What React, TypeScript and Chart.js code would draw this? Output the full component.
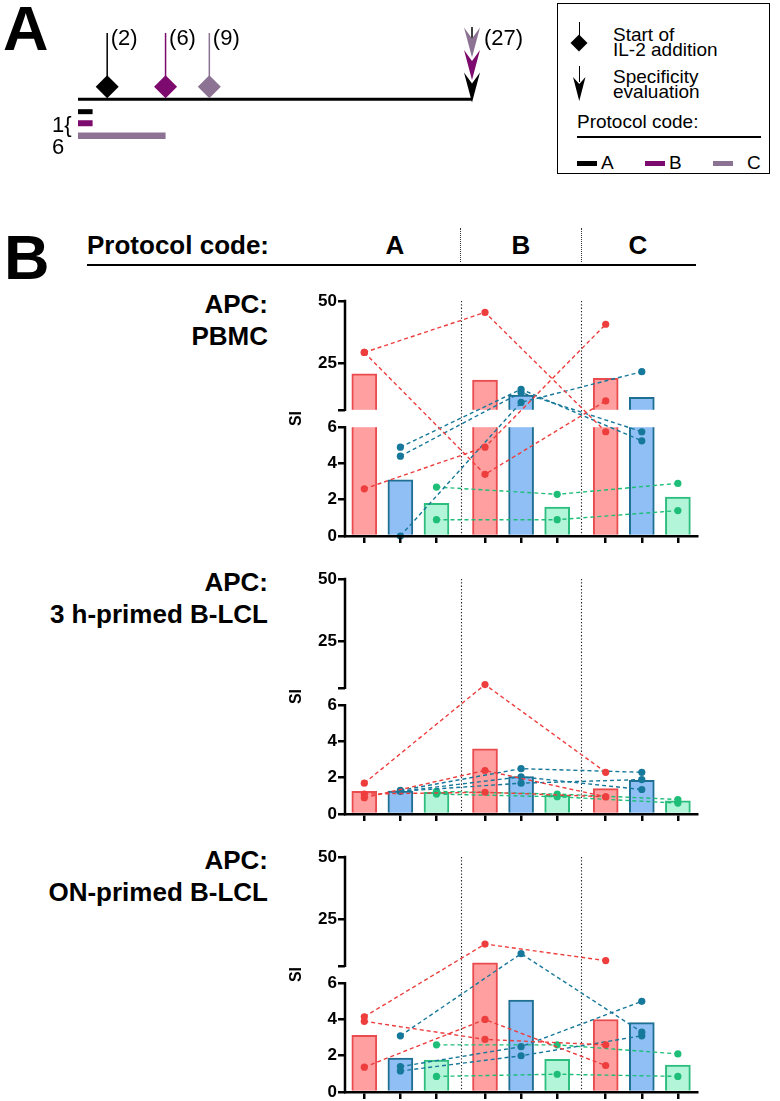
import React, { useEffect, useRef } from 'react';
import { Chart, registerables, LinearScale } from 'chart.js';

const FONT = '"Liberation Sans", Arial, Helvetica, sans-serif';

// ---------------- Panel A data ----------------
const PROTOCOL_CODES = ['A', 'B', 'C'];
const PROTOCOL_COLORS = ['#000000', '#7d0a6f', '#8c7394'];
const IL2_START_DAYS = [2, 6, 9];
const EVAL_DAY = 27;
const PRIMING_DAYS = [1, 1, 6];

// ---------------- Panel B data ----------------
const APC_LABELS = [
  ['APC:', 'PBMC'],
  ['APC:', '3 h-primed B-LCL'],
  ['APC:', 'ON-primed B-LCL'],
];
const Y_TICKS = [0, 2, 4, 6, 6.0001, 25, 50];
const Y_TICK_LABELS = ['0', '2', '4', '6', '', '25', '50'];

const PBMC_RED_BARS = [20.5, 18.0, 18.7];
const PBMC_BLUE_BARS = [3.1, 12.0, 11.0];
const PBMC_GREEN_BARS = [1.8, 1.6, 2.15];
const PBMC_RED_DONORS = [[29.2, 45.4, 5.75], [29.2, 3.4, 9.6], [2.6, 4.9, 40.6]];
const PBMC_BLUE_DONORS = [[4.9, 14.3, 5.25], [4.4, 13.0, 5.75], [0, 9.0, 21.4]];
const PBMC_GREEN_DONORS = [[2.7, 2.3, 2.9], [0.9, 0.9, 1.4]];

const LCL3H_RED_BARS = [1.25, 3.6, 1.4];
const LCL3H_BLUE_BARS = [1.27, 2.07, 1.85];
const LCL3H_GREEN_BARS = [1.2, 1.03, 0.72];
const LCL3H_RED_DONORS = [[1.7, 7.3, 2.3], [0.9, 2.4, 0.95], [1.1, 1.2, 0.95]];
const LCL3H_BLUE_DONORS = [[1.3, 2.5, 2.3], [1.25, 2.05, 1.35], [1.25, 1.7, 1.9]];
const LCL3H_GREEN_DONORS = [[1.25, 1.1, 0.8], [1.1, 0.95, 0.6]];

const LCLON_RED_BARS = [3.12, 7.2, 4.0];
const LCLON_BLUE_BARS = [1.87, 5.07, 3.83];
const LCLON_GREEN_BARS = [1.76, 1.8, 1.48];
const LCLON_RED_DONORS = [[4.15, 14.8, 8.1], [3.9, 2.9, 2.6], [1.37, 4.0, 1.46]];
const LCLON_BLUE_DONORS = [[3.1, 10.9, 3.3], [1.4, 2.5, 5.0], [1.16, 2.0, 3.1]];
const LCLON_GREEN_DONORS = [[2.6, 2.6, 2.1], [0.86, 0.98, 0.86]];

const CHART_BARS = [
  [PBMC_RED_BARS, PBMC_BLUE_BARS, PBMC_GREEN_BARS],
  [LCL3H_RED_BARS, LCL3H_BLUE_BARS, LCL3H_GREEN_BARS],
  [LCLON_RED_BARS, LCLON_BLUE_BARS, LCLON_GREEN_BARS],
];
const CHART_DONORS = [
  [PBMC_RED_DONORS, PBMC_BLUE_DONORS, PBMC_GREEN_DONORS],
  [LCL3H_RED_DONORS, LCL3H_BLUE_DONORS, LCL3H_GREEN_DONORS],
  [LCLON_RED_DONORS, LCLON_BLUE_DONORS, LCLON_GREEN_DONORS],
];

// ---------------- styles / layout ----------------
const BAR_FILL = ['#ff9f9f', '#8fbff4', '#b3f5d9'];
const BAR_EDGE = ['#ea4b4e', '#1e6f92', '#2dbd7e'];
const DOT_COLOR = ['#ee3d3d', '#16789a', '#1fbe78'];
const CHART_TOPS = [300.7, 579, 856.7];
const GROUP_GAP = 0.345;
const X_MIN = -0.535;
const X_MAX = 9.22;
const BREAK = 6;
const Y_MAX = 50;
const LOW_FRAC = 0.463;
const UP_FRAC = 0.463;
const GAP_MIN_VALUE = 9; // bars taller than this show the white axis-break gap

const pos = (g: number, k: number) => g * (3 + GROUP_GAP) + k;
const BAR_POSITIONS: number[] = [];
for (let g = 0; g < 3; g++) for (let k = 0; k < 3; k++) BAR_POSITIONS.push(pos(g, k));
const GROUP_SEPARATORS = [(pos(0, 2) + pos(1, 0)) / 2, (pos(1, 2) + pos(2, 0)) / 2];

class BrokenLinearScale extends LinearScale {
  static id = 'brokenLinear';
  static defaults = LinearScale.defaults;
  getPixelForValue(value: any) {
    if (value === null || value === undefined || isNaN(value)) return NaN;
    const h = this.bottom - this.top;
    if (value <= BREAK) return this.bottom - (value / BREAK) * h * LOW_FRAC;
    return this.top + ((Y_MAX - value) / (Y_MAX - BREAK)) * h * UP_FRAC;
  }
  getValueForPixel(pixel: number) {
    const h = this.bottom - this.top;
    const lowTop = this.bottom - h * LOW_FRAC;
    if (pixel >= lowTop) return ((this.bottom - pixel) / (h * LOW_FRAC)) * BREAK;
    return Y_MAX - ((pixel - this.top) / (h * UP_FRAC)) * (Y_MAX - BREAK);
  }
}

Chart.register(...registerables, BrokenLinearScale as any);

const brokenAxisPlugin = {
  id: 'brokenAxis',
  afterDatasetDraw(chart: any, args: any) {
    if (args.meta.type !== 'bar') return;
    const { ctx, chartArea } = chart;
    const y = chart.scales.y;
    const x = chart.scales.x;
    const gTop = y.getPixelForValue(BREAK + 0.0001);
    const gBot = y.getPixelForValue(BREAK);
    ctx.save();
    ctx.fillStyle = '#ffffff';
    args.meta.data.forEach((el: any, i: number) => {
      const v = args.meta._parsed[i].y;
      if (v < GAP_MIN_VALUE) return;
      const half = el.width / 2 + 1;
      ctx.fillRect(el.x - half, gTop, half * 2, gBot - gTop);
    });
    ctx.strokeStyle = '#222';
    ctx.lineWidth = 1.1;
    ctx.setLineDash([1.3, 2]);
    GROUP_SEPARATORS.forEach((v) => {
      const px = Math.round(x.getPixelForValue(v)) + 0.5;
      ctx.beginPath();
      ctx.moveTo(px, chartArea.top);
      ctx.lineTo(px, chartArea.bottom);
      ctx.stroke();
    });
    ctx.restore();
  },
  afterDraw(chart: any) {
    const { ctx, chartArea } = chart;
    const y = chart.scales.y;
    const x0 = chartArea.left;
    ctx.save();
    ctx.strokeStyle = '#000';
    ctx.lineWidth = 2.5;
    ctx.beginPath();
    ctx.moveTo(x0, y.getPixelForValue(0) + 1.25);
    ctx.lineTo(x0, y.getPixelForValue(BREAK) - 1.25);
    ctx.moveTo(x0, y.getPixelForValue(BREAK + 0.0001) + 1.25);
    ctx.lineTo(x0, y.getPixelForValue(Y_MAX) - 1.25);
    ctx.stroke();
    ctx.restore();
  },
};

function SIChart({ idx }: { idx: number }) {
  const ref = useRef<HTMLCanvasElement>(null);
  useEffect(() => {
    const bars = CHART_BARS[idx];
    const donors = CHART_DONORS[idx];
    const barData: any[] = [];
    const barBg: string[] = [];
    const barEdge: string[] = [];
    for (let g = 0; g < 3; g++) {
      for (let k = 0; k < 3; k++) {
        barData.push({ x: pos(g, k), y: bars[k][g] });
        barBg.push(BAR_FILL[k]);
        barEdge.push(BAR_EDGE[k]);
      }
    }
    const lineSets: any[] = [];
    donors.forEach((series, k) => {
      series.forEach((d) => {
        lineSets.push({
          type: 'line',
          data: d.map((v, g) => ({ x: pos(g, k), y: v })),
          borderColor: DOT_COLOR[k],
          backgroundColor: DOT_COLOR[k],
          borderWidth: 1.4,
          borderDash: [4, 3],
          pointRadius: 3.6,
          pointBorderWidth: 0,
          pointBackgroundColor: DOT_COLOR[k],
          tension: 0,
          clip: false,
          order: 1,
        });
      });
    });
    const chart = new Chart(ref.current as HTMLCanvasElement, {
      type: 'bar',
      data: {
        datasets: [
          {
            type: 'bar',
            data: barData,
            backgroundColor: barBg,
            borderColor: barEdge,
            borderWidth: 2,
            barThickness: 25,
            order: 2,
          } as any,
          ...lineSets,
        ],
      },
      options: {
        responsive: false,
        animation: false,
        events: [],
        layout: { padding: { left: 0, right: 13, top: 15, bottom: 0 } },
        plugins: { legend: { display: false }, tooltip: { enabled: false } },
        scales: {
          x: {
            type: 'linear',
            min: X_MIN,
            max: X_MAX,
            bounds: 'data',
            offset: false,
            afterBuildTicks: (s: any) => {
              s.ticks = BAR_POSITIONS.map((v) => ({ value: v }));
            },
            ticks: { display: false, autoSkip: false },
            grid: {
              offset: false,
              drawOnChartArea: false,
              drawTicks: true,
              tickLength: 7,
              lineWidth: 2.5,
              color: '#000',
              z: 1,
            },
            border: { display: true, color: '#000', width: 2.5, z: 1 },
            afterFit: (s: any) => {
              s.height = 20;
              s.paddingLeft = 0;
              s.paddingRight = 0;
            },
          },
          y: {
            type: 'brokenLinear',
            min: 0,
            max: Y_MAX,
            bounds: 'data',
            afterBuildTicks: (s: any) => {
              s.ticks = Y_TICKS.map((v) => ({ value: v }));
            },
            ticks: {
              autoSkip: false,
              padding: 1,
              color: '#000',
              font: { family: FONT, size: 17, weight: 'bold' },
              callback: (_v: any, i: number) => Y_TICK_LABELS[i],
            },
            grid: { drawOnChartArea: false, drawTicks: true, tickLength: 7, lineWidth: 2.5, color: '#000' },
            border: { display: false },
            title: {
              display: true,
              text: 'SI',
              color: '#000',
              font: { family: FONT, size: 16, weight: 'bold' },
              padding: { top: 17, bottom: 0 },
            },
            afterFit: (s: any) => {
              s.width = 75;
              s.paddingTop = 0;
              s.paddingBottom = 0;
            },
          } as any,
        },
      },
      plugins: [brokenAxisPlugin],
    } as any);
    return () => chart.destroy();
  }, [idx]);
  const top = CHART_TOPS[idx] - 15;
  return (
    <canvas
      ref={ref}
      width={440}
      height={270}
      style={{ position: 'absolute', left: 270, top, width: 440, height: 270 }}
    />
  );
}

// ---------------- Panel A ----------------
const ROW_STEM_TOP = 25;
const ROW_STEM_BOTTOM = 80;
const ROW_DIAMOND = 88;
const ROW_TIMELINE = 102.5;
const ROW_CULTURE = [117, 130.5, 145];
const CULTURE_THICK = [5, 6, 6.5];

const panelAPlugin = {
  id: 'panelA',
  afterDatasetsDraw(chart: any) {
    const { ctx } = chart;
    const x = chart.scales.x;
    const ex = x.getPixelForValue(EVAL_DAY);
    ctx.save();
    ctx.strokeStyle = '#000';
    ctx.lineWidth = 1.5;
    ctx.beginPath();
    ctx.moveTo(ex, 27);
    ctx.lineTo(ex, 42);
    ctx.stroke();
    for (let p = PROTOCOL_CODES.length - 1; p >= 0; p--) {
      const tip = ROW_TIMELINE - p * 22.5;
      ctx.fillStyle = PROTOCOL_COLORS[p];
      ctx.beginPath();
      ctx.moveTo(ex, tip);
      ctx.lineTo(ex - 8, tip - 30);
      ctx.lineTo(ex, tip - 19);
      ctx.lineTo(ex + 8, tip - 30);
      ctx.closePath();
      ctx.fill();
    }
    ctx.fillStyle = '#000';
    ctx.font = `22px ${FONT}`;
    ctx.textBaseline = 'alphabetic';
    ctx.textAlign = 'left';
    IL2_START_DAYS.forEach((d) => {
      ctx.fillText(`(${d})`, x.getPixelForValue(d) + 3.5, 45);
    });
    ctx.fillText(`(${EVAL_DAY})`, ex + 12, 45);
    ctx.restore();
  },
};

function PanelA() {
  const ref = useRef<HTMLCanvasElement>(null);
  useEffect(() => {
    const datasets: any[] = [];
    datasets.push({
      data: IL2_START_DAYS.map((d) => ({ x: d, y: ROW_DIAMOND })),
      showLine: false,
      pointStyle: 'rectRot',
      pointRadius: 11.5,
      pointBorderWidth: 0,
      pointBackgroundColor: PROTOCOL_COLORS,
      clip: false,
      order: 0,
    });
    datasets.push({
      data: [{ x: 0, y: ROW_TIMELINE }, { x: EVAL_DAY, y: ROW_TIMELINE }],
      borderColor: '#000',
      borderWidth: 3,
      pointRadius: 0,
      clip: false,
      order: 1,
    });
    IL2_START_DAYS.forEach((d, p) => {
      datasets.push({
        data: [{ x: d, y: ROW_STEM_TOP }, { x: d, y: ROW_STEM_BOTTOM }],
        borderColor: PROTOCOL_COLORS[p],
        borderWidth: 1.5,
        pointRadius: 0,
        clip: false,
        order: 1,
      });
    });
    PRIMING_DAYS.forEach((d, p) => {
      datasets.push({
        data: [{ x: 0, y: ROW_CULTURE[p] }, { x: d, y: ROW_CULTURE[p] }],
        borderColor: PROTOCOL_COLORS[p],
        borderWidth: CULTURE_THICK[p],
        borderCapStyle: 'butt',
        pointRadius: 0,
        clip: false,
        order: 1,
      });
    });
    const chart = new Chart(ref.current as HTMLCanvasElement, {
      type: 'line',
      data: { datasets },
      options: {
        responsive: false,
        animation: false,
        events: [],
        layout: { padding: { left: 78, right: 78, top: 0, bottom: 0 } },
        plugins: { legend: { display: false }, tooltip: { enabled: false } },
        scales: {
          x: { type: 'linear', min: 0, max: EVAL_DAY, display: false },
          y: { type: 'linear', min: 0, max: 160, reverse: true, display: false },
        },
      },
      plugins: [panelAPlugin],
    } as any);
    return () => chart.destroy();
  }, []);
  return (
    <canvas
      ref={ref}
      width={550}
      height={160}
      style={{ position: 'absolute', left: 0, top: 0, width: 550, height: 160 }}
    />
  );
}

// ---------------- helpers ----------------
function Txt({
  children,
  left,
  right,
  center,
  baseline,
  size,
  bold,
}: {
  children: any;
  left?: number;
  right?: number;
  center?: number;
  baseline: number;
  size: number;
  bold?: boolean;
}) {
  const style: any = {
    position: 'absolute',
    top: baseline - 0.8465 * size,
    fontSize: size,
    lineHeight: 1,
    fontWeight: bold ? 700 : 400,
    fontFamily: FONT,
    whiteSpace: 'nowrap',
    color: '#000',
  };
  if (left !== undefined) style.left = left;
  if (right !== undefined) {
    style.right = 780 - right;
    style.textAlign = 'right';
  }
  if (center !== undefined) {
    style.left = center - 60;
    style.width = 120;
    style.textAlign = 'center';
  }
  return <div style={style}>{children}</div>;
}

function Legend() {
  return (
    <>
      <div
        style={{
          position: 'absolute',
          left: 557,
          top: 3,
          width: 213,
          height: 171,
          border: '1.5px solid #000',
          boxSizing: 'border-box',
        }}
      />
      <div style={{ position: 'absolute', left: 578.5, top: 22, width: 1.5, height: 14, background: '#000' }} />
      <div
        style={{
          position: 'absolute',
          left: 579.25 - 6,
          top: 43 - 6,
          width: 12,
          height: 12,
          background: '#000',
          transform: 'rotate(45deg)',
        }}
      />
      <Txt left={613} baseline={41} size={19}>Start of</Txt>
      <Txt left={613} baseline={56.5} size={19}>IL-2 addition</Txt>
      <div style={{ position: 'absolute', left: 578.5, top: 66, width: 1.5, height: 16, background: '#000' }} />
      <svg style={{ position: 'absolute', left: 569, top: 74 }} width={21} height={30}>
        <polygon points="10.25,27 4,3 10.25,10 16.5,3" fill="#000" />
      </svg>
      <Txt left={613} baseline={83.3} size={19}>Specificity</Txt>
      <Txt left={613} baseline={98.3} size={19}>evaluation</Txt>
      <Txt left={577} baseline={127.7} size={19}>Protocol code:</Txt>
      <div style={{ position: 'absolute', left: 577, top: 136, width: 184, height: 1.5, background: '#000' }} />
      {PROTOCOL_CODES.map((c, i) => (
        <React.Fragment key={c}>
          <div
            style={{
              position: 'absolute',
              left: 577 + i * 68,
              top: 161,
              width: 20,
              height: 5,
              background: PROTOCOL_COLORS[i],
            }}
          />
          <Txt left={601 + i * 68 + (i === 2 ? 10 : 0)} baseline={169.5} size={19}>
            {c}
          </Txt>
        </React.Fragment>
      ))}
    </>
  );
}

export default function App() {
  return (
    <div
      style={{
        position: 'absolute',
        left: 0,
        top: 0,
        width: 780,
        height: 1101,
        background: '#fff',
        overflow: 'hidden',
        fontFamily: FONT,
      }}
    >
      <Txt left={3} baseline={50} size={63} bold>A</Txt>
      <PanelA />
      <Txt left={52} baseline={133} size={22}>1{'{'}</Txt>
      <Txt left={52} baseline={155} size={22}>6</Txt>
      <Legend />

      <Txt left={4} baseline={279} size={63} bold>B</Txt>
      <Txt left={87} baseline={254} size={26} bold>Protocol code:</Txt>
      {PROTOCOL_CODES.map((c, i) => (
        <Txt key={c} center={[395, 521, 638][i]} baseline={254} size={26} bold>
          {c}
        </Txt>
      ))}
      <div style={{ position: 'absolute', left: 87, top: 264, width: 609, height: 2, background: '#000' }} />
      {[460, 581].map((x) => (
        <div
          key={x}
          style={{ position: 'absolute', left: x, top: 228, height: 34, borderLeft: '1.2px dotted #333' }}
        />
      ))}

      {CHART_TOPS.map((t, i) => (
        <React.Fragment key={i}>
          <Txt right={268} baseline={t + 12.3} size={26} bold>
            {APC_LABELS[i][0]}
          </Txt>
          <Txt right={268} baseline={t + 44.3} size={26} bold>
            {APC_LABELS[i][1]}
          </Txt>
          <SIChart idx={i} />
        </React.Fragment>
      ))}
    </div>
  );
}
